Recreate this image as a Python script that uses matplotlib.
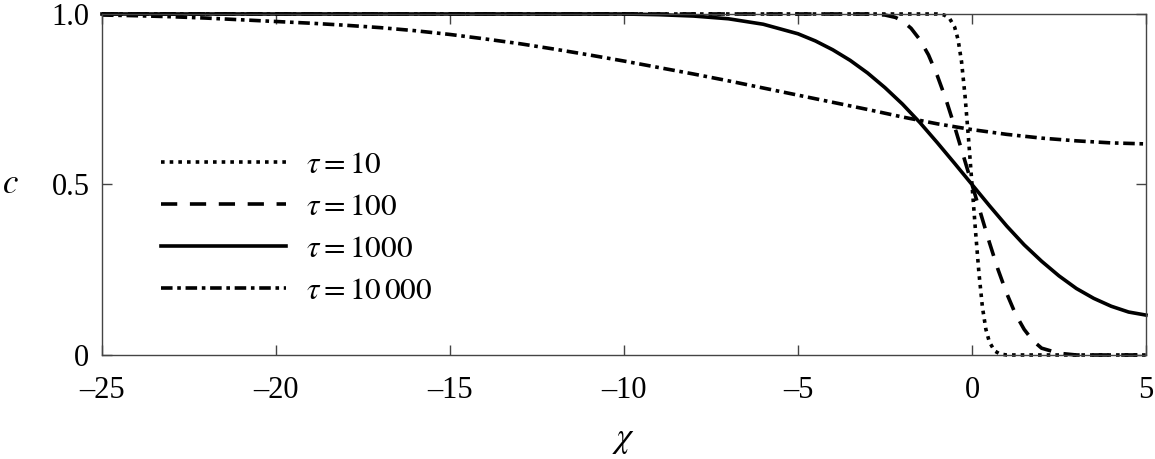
import matplotlib.pyplot as plt
import numpy as np

plt.rcParams['font.family'] = ['Liberation Serif', 'DejaVu Serif']
plt.rcParams['mathtext.fontset'] = 'stix'

# values
x_t10 = [-25, -1.0, -0.8, -0.65, -0.5, -0.4, -0.3, -0.2, -0.1, 0.0, 0.1, 0.2, 0.3, 0.4, 0.5, 0.65, 0.8, 1.0, 5]
c_t10 = [1.0, 1.0, 0.997, 0.988, 0.962, 0.925, 0.86, 0.76, 0.635, 0.50, 0.365, 0.24, 0.14, 0.075, 0.038, 0.012, 0.003, 0.0, 0.0]

x_t100 = [-25, -3.0, -2.5, -2.2, -2.0, -1.75, -1.5, -1.25, -1.0, -0.75, -0.5, -0.25, 0.0,
          0.25, 0.5, 0.75, 1.0, 1.25, 1.5, 1.75, 2.0, 2.5, 3.0, 5]
c_t100 = [1.0, 1.0, 0.997, 0.99, 0.98, 0.958, 0.925, 0.88, 0.82, 0.75, 0.67, 0.585, 0.50,
          0.415, 0.33, 0.25, 0.18, 0.12, 0.075, 0.042, 0.02, 0.005, 0.0, 0.0]

x_t1000 = [-25, -10, -9, -8, -7, -6, -5, -4.5, -4, -3.5, -3, -2.5, -2, -1.5, -1, -0.5, 0,
           0.5, 1, 1.5, 2, 2.5, 3, 3.5, 4, 4.5, 5]
c_t1000 = [1.0, 1.0, 0.998, 0.994, 0.986, 0.970, 0.942, 0.921, 0.895, 0.864, 0.827, 0.784, 0.736, 0.682, 0.623, 0.562, 0.50,
           0.438, 0.378, 0.323, 0.275, 0.232, 0.195, 0.166, 0.143, 0.126, 0.117]

x_t10000 = [-25, -24, -23, -22, -21, -20, -19, -18, -17, -16, -15, -14, -13, -12, -11, -10,
            -9, -8, -7, -6, -5, -4, -3, -2, -1, 0, 1, 2, 3, 4, 5]
c_t10000 = [0.997, 0.995, 0.992, 0.988, 0.983, 0.978, 0.973, 0.967, 0.960, 0.951, 0.940, 0.927, 0.913, 0.897, 0.880, 0.862,
            0.843, 0.824, 0.804, 0.783, 0.762, 0.741, 0.720, 0.698, 0.678, 0.661, 0.647, 0.636, 0.628, 0.622, 0.619]

labels = [r'$\tau = 10$', r'$\tau = 100$', r'$\tau = 1000$', r'$\tau = 10\,000$']
x_ticks = [-25, -20, -15, -10, -5, 0, 5]
y_ticks = [0, 0.5, 1.0]
y_ticklabels = ['0', '0.5', '1.0']

fig = plt.figure(figsize=(11.55, 4.59), dpi=100)
ax = fig.add_axes([0.0883, 0.2266, 0.9039, 0.7429])

lw = 2.6
ax.plot(x_t10, c_t10, color='black', lw=lw, ls=(0, (1, 1.4)), clip_on=False, label=labels[0])
ax.plot(x_t100, c_t100, color='black', lw=lw, ls=(0, (4.5, 3.5)), clip_on=False, label=labels[1])
ax.plot(x_t1000, c_t1000, color='black', lw=lw, ls='-', clip_on=False, label=labels[2])
ax.plot(x_t10000, c_t10000, color='black', lw=lw, ls=(0, (3.2, 1.3, 1.0, 1.3)), clip_on=False, label=labels[3])

ax.set_xlim(-25, 5)
ax.set_ylim(0, 1)
ax.set_xticks(x_ticks)
ax.set_xticklabels([str(t).replace('-', '\u2013') for t in x_ticks])
ax.set_yticks(y_ticks)
ax.set_yticklabels(y_ticklabels)
ax.tick_params(direction='in', top=True, right=True, length=7, width=1, color='#444444',
               labelsize=22)
ax.tick_params(axis='x', pad=15)
ax.tick_params(axis='y', pad=9)
for sp in ax.spines.values():
    sp.set_color('#444444')
    sp.set_linewidth(1)

ax.set_xlabel(r'$\chi$', fontsize=25)
ax.xaxis.set_label_coords(0.5, -0.2)
ax.set_ylabel(r'$c$', fontsize=25, rotation=0, va='center', ha='center')
ax.yaxis.set_label_coords(-0.088, 0.5)

leg = ax.legend(loc='upper left', bbox_to_anchor=(0.045, 0.635), frameon=False, fontsize=22.5,
                handlelength=4.0, handletextpad=0.62, labelspacing=0.42, borderaxespad=0)

fig.savefig('out.png', dpi=100)
